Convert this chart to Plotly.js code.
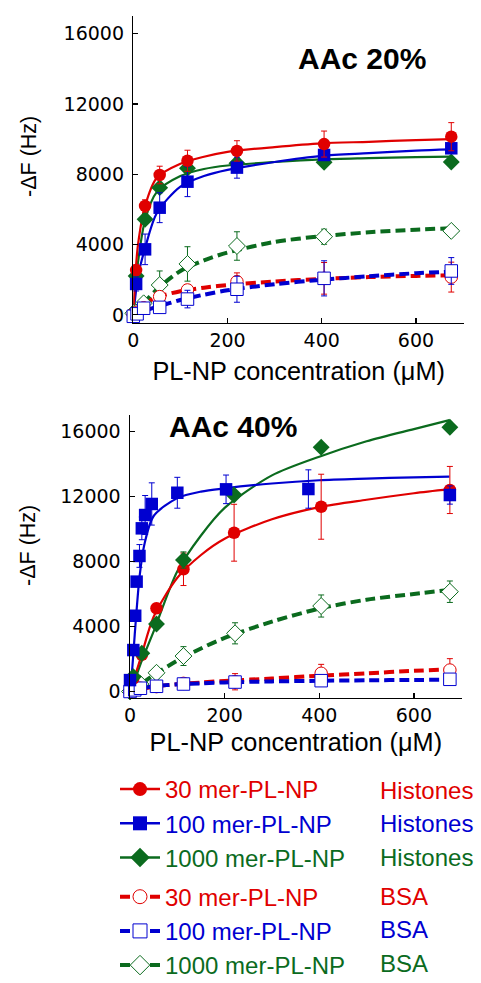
<!DOCTYPE html>
<html><head><meta charset="utf-8">
<script src="https://cdn.plot.ly/plotly-3.0.1.min.js"></script>
<style>html,body{margin:0;padding:0;background:#fff}</style>
</head><body><div id="chart" style="width:481px;height:983px"></div>
<script>
const RED = '#e00000', BLUE = '#0000d0', GREEN = '#0b6b1e';

// ---------- tick labels and titles ----------
const xTickVals = [0, 200, 400, 600];
const xTickText = ['0', '200', '400', '600'];
const yTickVals = [0, 4000, 8000, 12000, 16000];
const yTickText = ['0', '4000', '8000', '12000', '16000'];
const xTitle = 'PL-NP concentration (μM)';
const yTitle = '-ΔF (Hz)';
const panelTitles = ['AAc 20%', 'AAc 40%'];

// ---------- AAc 20% (top) ----------
const conc20H = [6, 25, 56, 115, 220, 405, 675];
const red20H = [2550, 6200, 7960, 8770, 9330, 9720, 10140];
const red20Herr = [300, 350, 500, 600, 580, 740, 800];
const blue20H = [1760, 3730, 6100, 7580, 8380, 9100, 9480];
const blue20Herr = [400, 870, 850, 850, 600, 300, 300];
const green20H = [2210, 5440, 7240, 8340, 8630, 8680, 8700];
const green20Herr = [0, 0, 0, 0, 0, 0, 0];

const conc20B = [0, 8, 22, 56, 115, 220, 405, 675];
const red20B = [30, 150, 400, 1040, 1420, 1890, 2080, 2150];
const red20Berr = [0, 0, 0, 200, 300, 500, 900, 850];
const blue20B = [-80, 60, 380, 430, 900, 1460, 2080, 2500];
const blue20Berr = [0, 0, 0, 300, 500, 740, 1000, 760];
const green20B = [90, 180, 660, 1700, 2900, 3920, 4450, 4780];
const green20Berr = [0, 0, 0, 800, 980, 810, 430, 100];

const fitX = [0, 5, 10, 25, 50, 100, 150, 200, 300, 400, 500, 600, 675];
const red20Fit = [0, 2500, 4000, 6200, 7800, 8600, 9000, 9280, 9550, 9760, 9850, 9950, 10000];
const blue20Fit = [0, 1200, 2200, 3800, 5800, 7300, 7900, 8250, 8700, 9050, 9200, 9350, 9420];
const green20Fit = [0, 1800, 3000, 5400, 7000, 7900, 8300, 8500, 8700, 8850, 8920, 8980, 9000];

const fitXB = [0, 10, 25, 50, 100, 150, 200, 300, 400, 500, 600, 675];
const red20FitB = [0, 300, 650, 1000, 1350, 1550, 1700, 1900, 2050, 2150, 2220, 2260];
const blue20FitB = [0, 100, 250, 450, 850, 1150, 1400, 1750, 2000, 2200, 2370, 2460];
const green20FitB = [0, 300, 750, 1450, 2500, 3100, 3550, 4150, 4480, 4700, 4850, 4930];

// ---------- AAc 40% (bottom) ----------
const conc40H = [7, 25, 56, 113, 220, 404, 676];
const red40H = [800, 2250, 5120, 7520, 9770, 11370, 12400];
const red40Herr = [0, 200, 300, 1000, 1750, 2000, 1450];
const green40H = [910, 2350, 4150, 8090, 12090, 15030, 16260];
const green40Herr = [0, 0, 0, 500, 0, 0, 0];
const conc40Blue = [0, 7, 11, 14, 20, 25, 32, 46, 100, 203, 377, 676];
const blue40H = [700, 2550, 4660, 6760, 8340, 10040, 10860, 11540, 12230, 12440, 12460, 12090];
const blue40Herr = [0, 0, 200, 300, 700, 700, 1200, 1300, 950, 880, 1180, 560];

const conc40B = [0, 10, 22, 56, 113, 222, 404, 676];
const red40B = [0, 100, 200, 300, 500, 600, 1120, 1320];
const red40Berr = [0, 0, 0, 100, 200, 500, 550, 700];
const blue40B = [0, 100, 200, 320, 460, 580, 665, 750];
const blue40Berr = [0, 0, 0, 100, 150, 300, 200, 150];
const green40B = [0, 150, 460, 1150, 2180, 3580, 5260, 6140];
const green40Berr = [0, 0, 0, 300, 580, 650, 680, 660];

const red40Fit = [0, 450, 900, 2300, 4600, 7000, 8400, 9400, 10600, 11350, 11800, 12200, 12450];
const green40Fit = [0, 350, 700, 1900, 3700, 7400, 9600, 11300, 13300, 14450, 15400, 16150, 16700];
const fitXBlue40 = [0, 5, 10, 20, 30, 50, 100, 150, 200, 300, 400, 500, 600, 675];
const blue40Fit = [0, 1500, 3500, 7000, 9000, 10800, 11900, 12300, 12500, 12800, 13000, 13100, 13180, 13220];
const red40FitB = [0, 60, 150, 300, 450, 550, 650, 800, 970, 1120, 1270, 1370];
const blue40FitB = [0, 80, 200, 320, 440, 500, 560, 620, 660, 690, 710, 720];
const green40FitB = [0, 200, 500, 1000, 1900, 2650, 3300, 4300, 5100, 5650, 6000, 6250];

// legend
const seriesNames = ['30 mer-PL-NP', '100 mer-PL-NP', '1000 mer-PL-NP'];
const proteinNames = ['Histones', 'BSA'];
const colors = [RED, BLUE, GREEN];
const symbols = ['circle', 'square', 'diamond'];

const traces = [];
function fitLine(x, y, color, dashed, ax) {
  traces.push({x: x, y: y, mode: 'lines', xaxis: ax[0], yaxis: ax[1], showlegend: false, hoverinfo: 'skip',
    line: {color: color, width: dashed ? 4 : 2.2, shape: 'spline', smoothing: 0.8, dash: dashed ? '10px,5px' : 'solid'}});
}
function pts(x, y, err, color, sym, open, ax) {
  traces.push({x: x, y: y, mode: 'markers', xaxis: ax[0], yaxis: ax[1], showlegend: false, cliponaxis: false,
    marker: {symbol: sym, size: sym === 'diamond' ? 13 : 12.5, color: open ? '#ffffff' : color,
      line: {color: color, width: open ? 1 : 0}},
    error_y: {type: 'data', array: err, visible: true, color: color, thickness: 1, width: 3}});
}
const A1 = ['x', 'y'], A2 = ['x2', 'y2'];
// top chart
fitLine(fitXB, green20FitB, GREEN, true, A1);
fitLine(fitXB, red20FitB, RED, true, A1);
fitLine(fitXB, blue20FitB, BLUE, true, A1);
fitLine(fitX, green20Fit, GREEN, false, A1);
fitLine(fitX, blue20Fit, BLUE, false, A1);
fitLine(fitX, red20Fit, RED, false, A1);
pts(conc20B, green20B, green20Berr, GREEN, 'diamond', true, A1);
pts(conc20B, red20B, red20Berr, RED, 'circle', true, A1);
pts(conc20B, blue20B, blue20Berr, BLUE, 'square', true, A1);
pts(conc20H, green20H, green20Herr, GREEN, 'diamond', false, A1);
pts(conc20H, blue20H, blue20Herr, BLUE, 'square', false, A1);
pts(conc20H, red20H, red20Herr, RED, 'circle', false, A1);
// bottom chart
fitLine(fitXB, green40FitB, GREEN, true, A2);
fitLine(fitXB, red40FitB, RED, true, A2);
fitLine(fitXB, blue40FitB, BLUE, true, A2);
fitLine(fitX, green40Fit, GREEN, false, A2);
fitLine(fitX, red40Fit, RED, false, A2);
fitLine(fitXBlue40, blue40Fit, BLUE, false, A2);
pts(conc40B, green40B, green40Berr, GREEN, 'diamond', true, A2);
pts(conc40B, red40B, red40Berr, RED, 'circle', true, A2);
pts(conc40B, blue40B, blue40Berr, BLUE, 'square', true, A2);
pts(conc40H, red40H, red40Herr, RED, 'circle', false, A2);
pts(conc40H, green40H, green40Herr, GREEN, 'diamond', false, A2);
pts(conc40Blue, blue40H, blue40Herr, BLUE, 'square', false, A2);

// legend-only traces
proteinNames.forEach((p, pi) => {
  seriesNames.forEach((s, si) => {
    const open = pi === 1;
    traces.push({x: [null], y: [null], mode: 'lines+markers', legendgroup: p, showlegend: true,
      name: '<span style="color:' + colors[si] + '">' + s + '</span>',
      line: {color: colors[si], width: open ? 4 : 2.5, dash: open ? '10px,5px' : 'solid'},
      marker: {symbol: symbols[si], size: si === 2 ? 15 : 14, color: open ? '#ffffff' : colors[si],
        line: {color: colors[si], width: open ? 1 : 0}}});
  });
});

const W = 481, H = 983;
const px = v => v / W, py = v => 1 - v / H;
const FONT = 'Liberation Sans, Arial, sans-serif';
const tickFont = {family: 'DejaVu Sans, sans-serif', size: 19, color: '#000'};
function xa(dom, range, standoff) {
  return {domain: dom, range: range, showgrid: false, zeroline: false, showline: true, linecolor: '#000', linewidth: 1.5,
    ticks: 'inside', ticklen: 5, tickwidth: 1.2, tickcolor: '#000', tickmode: 'array', tickvals: xTickVals, ticktext: xTickText,
    tickfont: tickFont, ticklabelstandoff: 0,
    title: {text: xTitle, font: {family: FONT, size: 25.3, color: '#000'}, standoff: standoff}};
}
function ya(dom, range, anchor) {
  return {domain: dom, range: range, anchor: anchor, showgrid: false, zeroline: false, showline: true, linecolor: '#000', linewidth: 1.5,
    ticks: 'inside', ticklen: 5, tickwidth: 1.2, tickcolor: '#000', tickmode: 'array', tickvals: yTickVals, ticktext: yTickText,
    tickfont: tickFont, ticklabelstandoff: 4};
}
function ann(text, x, y, size, color, xanchor, angle) {
  return {text: text, xref: 'paper', yref: 'paper', x: px(x), y: py(y), showarrow: false, textangle: angle || 0,
    xanchor: xanchor || 'center', yanchor: 'middle', font: {family: FONT, size: size, color: color}};
}
const LF = 24;
const legendRows = [790, 823.5, 857, 896, 929.5, 963];
const layout = {
  width: W, height: H, margin: {l: 0, r: 0, t: 0, b: 0, autoexpand: false}, paper_bgcolor: '#fff', plot_bgcolor: '#fff',
  font: {family: FONT, color: '#000'},
  xaxis: Object.assign(xa([px(133.3), px(464)], [0, 702], 12), {anchor: 'y'}),
  yaxis: ya([py(322.7), py(16)], [-444, 17007], 'x'),
  xaxis2: Object.assign(xa([px(130), px(461.7)], [0, 701], 8), {anchor: 'y2'}),
  yaxis2: ya([py(697.5), py(415)], [-370, 17015], 'x2'),
  showlegend: true,
  legend: {x: px(115), xanchor: 'left', y: py(767), yanchor: 'top', yref: 'container', xref: 'paper',
    font: {family: FONT, size: LF},
    bgcolor: 'rgba(0,0,0,0)', tracegroupgap: 5, itemwidth: 40, traceorder: 'grouped', itemclick: false},
  annotations: [
    ann('<b>' + panelTitles[0] + '</b>', 362, 58, 30, '#000'),
    ann('<b>' + panelTitles[1] + '</b>', 233, 426, 30, '#000'),
    ann(yTitle, 29, 157, 21.5, '#000', 'center', -90),
    ann(yTitle, 28, 546, 21.5, '#000', 'center', -90),
    ann(proteinNames[0], 378, legendRows[0], LF, RED, 'left'),
    ann(proteinNames[0], 378, legendRows[1], LF, BLUE, 'left'),
    ann(proteinNames[0], 378, legendRows[2], LF, GREEN, 'left'),
    ann(proteinNames[1], 378, legendRows[3], LF, RED, 'left'),
    ann(proteinNames[1], 378, legendRows[4], LF, BLUE, 'left'),
    ann(proteinNames[1], 378, legendRows[5], LF, GREEN, 'left')
  ]
};
Plotly.newPlot('chart', traces, layout, {staticPlot: true, displayModeBar: false});
</script></body></html>
